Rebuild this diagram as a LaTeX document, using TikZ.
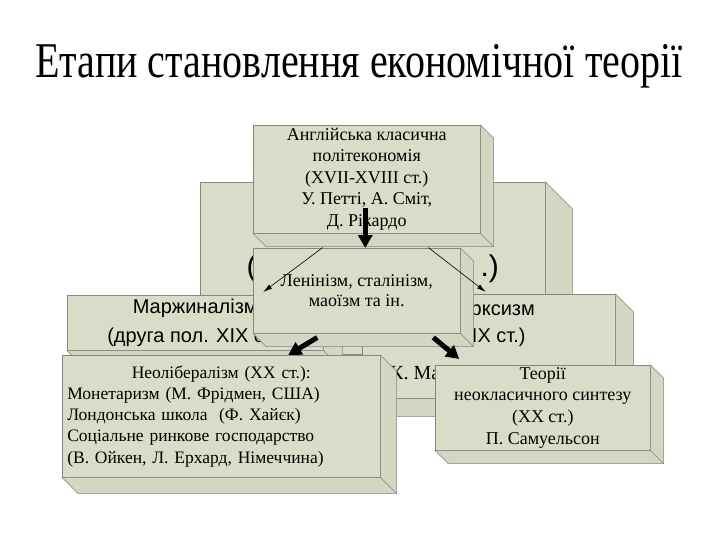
\documentclass[tikz,border=0pt]{standalone}
\usepackage{fontspec}
\usepackage{graphicx}
\setmainfont{Liberation Serif}
\setsansfont{Liberation Sans}
\usetikzlibrary{arrows.meta}
\definecolor{BoxFace}{HTML}{DADCCA}
\definecolor{BoxSide}{HTML}{D4D6C3}
\definecolor{BoxEdge}{HTML}{85867C}

\tikzset{
  cubebox/.style={draw=BoxEdge,fill=BoxFace,line width=0.5pt,anchor=north west,
                  inner sep=2pt,align=center},
  fatarrow/.style={line width=5pt,-{Triangle[width=14pt,length=13pt]}},
  thinarrow/.style={line width=0.6pt,-{Latex[width=5pt,length=9pt]}}
}
% depth faces of a cube box, drawn from its node anchors
\newcommand{\cubeside}[2]{%
  \filldraw[draw=BoxEdge,fill=BoxSide,line width=0.5pt]
    (#1.north east) -- ++(#2,#2) -- ([shift={(#2,#2)}]#1.south east)
    -- ([shift={(#2,#2)}]#1.south west) -- (#1.south west) -- (#1.south east) -- cycle;
  \draw[BoxEdge,line width=0.5pt] (#1.south east) -- ++(#2,#2);}

\begin{document}
\begin{tikzpicture}[x=1pt,y=-1pt]
\useasboundingbox[fill=white] (0,0) rectangle (720,540);

\node[anchor=base] (title) at (359,78)
  {\scalebox{0.8}[1]{\fontsize{50pt}{50pt}\selectfont Етапи становлення економічної теорії}};

% back box
\node[cubebox,minimum width=345pt,minimum height=172pt,
      font=\sffamily\fontsize{30pt}{30pt}\selectfont] (back) at (200,182) {(\hspace{224pt}.)};
\cubeside{back}{27}

\node[cubebox,minimum width=256pt,minimum height=55pt,
      font=\sffamily\fontsize{20pt}{29pt}\selectfont] (marg) at (67,295)
  {Маржиналізм\\(друга пол. XIX ст.)};
\cubeside{marg}{19}

\node[cubebox,minimum width=253pt,minimum height=104pt,
      font=\sffamily\fontsize{20pt}{27pt}\selectfont] (marx) at (362,294)
  {Марксизм\\(XIX ст.)\\[22pt]};
\cubeside{marx}{18}
\node[anchor=base west,inner sep=0pt,font=\fontsize{20pt}{20pt}\selectfont]
  (marxnames) at ([xshift=28pt,yshift=-85pt]marx.north west) {К. Маркс};

\node[cubebox,minimum width=227pt,minimum height=108pt,
      font=\fontsize{18pt}{21.5pt}\selectfont] (eng) at (253,125)
  {Англійська класична\\політекономія\\(XVII-XVIII ст.)\\У. Петті, А. Сміт,\\Д. Рікардо};
\cubeside{eng}{13}

\node[cubebox,minimum width=207pt,minimum height=85pt,
      font=\fontsize{18pt}{20pt}\selectfont] (len) at (253,248)
  {Ленінізм, сталінізм,\\маоїзм та ін.};
\cubeside{len}{13}

\node[cubebox,align=left,text width=308pt,inner xsep=5pt,minimum height=122pt,
      font=\fontsize{17.5pt}{21.25pt}\selectfont] (neo) at (62,355)
  {\makebox[308pt]{Неолібералізм (XX ст.):}\\
   Монетаризм (М. Фрідмен, США)\\
   Лондонська школа \ (Ф. Хайєк)\\
   Соціальне ринкове господарство\\
   (В. Ойкен, Л. Ерхард, Німеччина)};
\cubeside{neo}{16}

\node[cubebox,minimum width=215pt,minimum height=85pt,
      font=\fontsize{18pt}{21.7pt}\selectfont] (theo) at (435,365)
  {Теорії\\неокласичного синтезу\\(XX ст.)\\П. Самуельсон};
\cubeside{theo}{13}

% arrows
\draw[fatarrow] ([xshift=-1.5pt,yshift=25pt]eng.south) -- ([xshift=-1.5pt]eng.south |- len.north);
\draw[thinarrow] ([xshift=-44pt,yshift=-14pt]eng.south) -- ([xshift=68pt,yshift=3pt]marg.north);
\draw[thinarrow] ([xshift=61.5pt,yshift=-14pt]eng.south) -- ([xshift=-3pt,yshift=2pt]marx.north);
\draw[fatarrow] ([xshift=-39.5pt,yshift=-4pt]len.south) -- ([xshift=67pt]neo.north);
\draw[fatarrow] ([xshift=76.5pt,yshift=-4pt]len.south) -- ([xshift=-83.5pt,yshift=6pt]theo.north);
\end{tikzpicture}
\end{document}
